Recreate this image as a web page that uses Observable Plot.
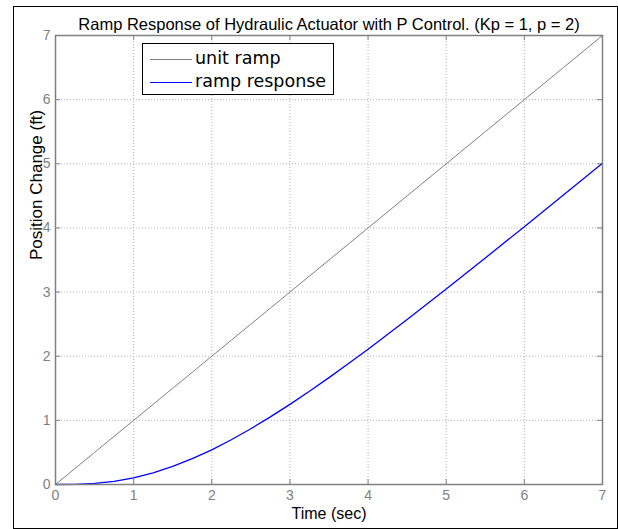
<!DOCTYPE html>
<html>
<head>
<meta charset="utf-8">
<script src="https://cdn.jsdelivr.net/npm/d3@7"></script>
<script src="https://cdn.jsdelivr.net/npm/@observablehq/plot@0.6"></script>
<style>
  html, body { margin: 0; padding: 0; background: #fff; }
  #wrap { position: relative; width: 618px; height: 529px; overflow: hidden; }
  #border { position: absolute; left: 13px; top: 6px; width: 603px; height: 521px; border: 1px solid #000; box-sizing: content-box; pointer-events: none; }
  #chart { position: absolute; left: 0; top: 0; }
  #legend { position: absolute; left: 142px; top: 43px; width: 190px; height: 50px; background: #fff; border: 1.5px solid #000; font-family: "DejaVu Sans", Verdana, sans-serif; font-size: 17.5px; color: #000; }
  .lline { position: absolute; left: 6.5px; width: 42px; height: 1px; }
  .ltext { position: absolute; left: 52px; line-height: 22px; white-space: nowrap; }
</style>
</head>
<body>
<div id="wrap">
  <div id="chart"></div>
  <div id="border"></div>
  <div id="legend"></div>
</div>
<script>
// Time samples (sec)
const time = [0, 0.25, 0.5, 0.75, 1, 1.25, 1.5, 1.75, 2, 2.25, 2.5, 2.75, 3, 3.25, 3.5, 3.75, 4, 4.5, 5, 5.5, 6, 6.5, 7];
// unit ramp values (ft)
const unitRamp = [0, 0.25, 0.5, 0.75, 1, 1.25, 1.5, 1.75, 2, 2.25, 2.5, 2.75, 3, 3.25, 3.5, 3.75, 4, 4.5, 5, 5.5, 6, 6.5, 7];
// ramp response values (ft)
const rampResponse = [0, 0.003, 0.016, 0.049, 0.104, 0.181, 0.281, 0.402, 0.541, 0.698, 0.869, 1.054, 1.249, 1.454, 1.666, 1.885, 2.110, 2.572, 3.047, 3.531, 4.020, 4.513, 5.008];
const xTicks = [0, 1, 2, 3, 4, 5, 6, 7];
const yTicks = [0, 1, 2, 3, 4, 5, 6, 7];
const seriesNames = ["unit ramp", "ramp response"];
const seriesColors = ["#808080", "#0000ff"];
const titleText = "Ramp Response of Hydraulic Actuator with P Control. (Kp = 1, p = 2)";
const xLabel = "Time (sec)";
const yLabel = "Position Change (ft)";

const rampData = time.map((t, i) => ({t, v: unitRamp[i]}));
const respData = time.map((t, i) => ({t, v: rampResponse[i]}));

const W = 618, H = 529, mT = 35, mB = 45, mL = 55, mR = 16;
const innerH = H - mT - mB;
const innerW = W - mL - mR;
const tickLen = 5;
const tickColor = "#808080";

const chart = Plot.plot({
  width: W, height: H,
  marginTop: mT, marginBottom: mB, marginLeft: mL, marginRight: mR,
  style: {fontFamily: "Liberation Sans, Arial, sans-serif", background: "transparent"},
  x: {domain: [0, 7]},
  y: {domain: [0, 7]},
  marks: [
    Plot.gridX(xTicks, {stroke: "#b0b0b0", strokeOpacity: 1, strokeDasharray: "1,2"}),
    Plot.gridY(yTicks, {stroke: "#b0b0b0", strokeOpacity: 1, strokeDasharray: "1,2"}),
    Plot.tickX(xTicks, {x: d => d, insetTop: innerH - tickLen, stroke: tickColor}),
    Plot.tickX(xTicks, {x: d => d, insetBottom: innerH - tickLen, stroke: tickColor}),
    Plot.tickY(yTicks, {y: d => d, insetRight: innerW - tickLen, stroke: tickColor}),
    Plot.tickY(yTicks, {y: d => d, insetLeft: innerW - tickLen, stroke: tickColor}),
    Plot.line(rampData, {x: "t", y: "v", stroke: seriesColors[0], strokeWidth: 1}),
    Plot.line(respData, {x: "t", y: "v", stroke: seriesColors[1], strokeWidth: 1.3}),
    Plot.frame({stroke: tickColor, strokeWidth: 1.5}),
    Plot.axisX(xTicks, {tickSize: 0, tickPadding: 6, fontSize: 14, color: "#808080", label: null, tickFormat: d3.format("d")}),
    Plot.axisY(yTicks, {tickSize: 0, tickPadding: 5, fontSize: 14, color: "#808080", label: null, tickFormat: d3.format("d")}),
    Plot.text([xLabel], {frameAnchor: "bottom", dy: 34, fontSize: 16, fill: "#000"}),
    Plot.text([yLabel], {frameAnchor: "left", dx: -19, rotate: -90, fontSize: 17, fill: "#000"}),
    Plot.text([titleText], {frameAnchor: "top", dy: -17, fontSize: 16.5, fill: "#000"})
  ]
});
document.getElementById("chart").appendChild(chart);

const legend = document.getElementById("legend");
seriesNames.forEach((name, i) => {
  const rowTop = i === 0 ? 3 : 26;
  const ln = document.createElement("div");
  ln.className = "lline";
  ln.style.top = (rowTop + 11.5) + "px";
  ln.style.background = seriesColors[i];
  const tx = document.createElement("div");
  tx.className = "ltext";
  tx.style.top = rowTop + "px";
  tx.textContent = name;
  legend.appendChild(ln);
  legend.appendChild(tx);
});
</script>
</body>
</html>
